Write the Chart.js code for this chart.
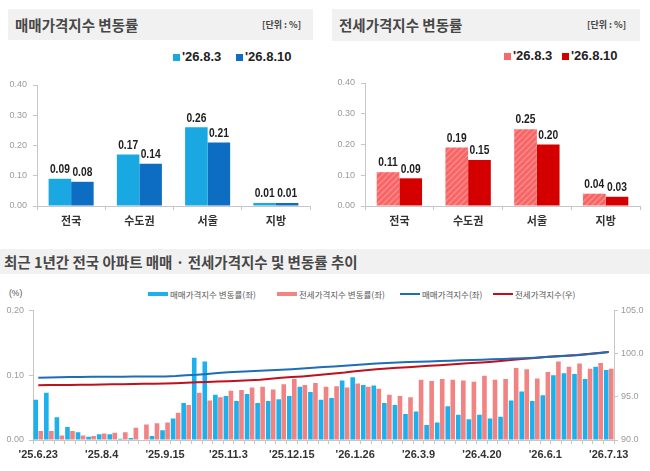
<!DOCTYPE html>
<html><head><meta charset="utf-8">
<script src="https://cdn.jsdelivr.net/npm/chart.js@4.4.1/dist/chart.umd.min.js"></script>
<style>
body{margin:0;background:#fff;width:650px;height:471px;position:relative;overflow:hidden;font-family:'Noto Sans CJK KR','Noto Sans',sans-serif;}
.abs{position:absolute;white-space:nowrap;}
.band{position:absolute;background:#f1f1f1;}
.title{font-weight:bold;color:#474747;}
.unit{font-weight:bold;color:#444;font-size:9px;}
.lg{font-family:'Liberation Sans',Arial,sans-serif;font-weight:bold;font-size:13px;color:#222;line-height:14px;}
.sq{position:absolute;width:7px;height:7px;}
.blg{font-size:8.5px;color:#555;line-height:10px;}
.bsym{position:absolute;width:20px;}
canvas{position:absolute;}
</style>
</head><body>
<div class="band" style="left:8px;top:9px;width:305px;height:31px;"></div>
<div class="abs title" style="left:15px;top:9px;line-height:31px;font-size:14.5px;">매매가격지수 변동률</div>
<div class="abs unit" style="left:262px;top:9px;line-height:31px;">[단위 : %]</div>
<div class="sq" style="left:173px;top:54px;background:#19a8e2;"></div>
<div class="abs lg" style="left:182px;top:50px;">'26.8.3</div>
<div class="sq" style="left:236px;top:54px;background:#0d6dc2;"></div>
<div class="abs lg" style="left:245px;top:50px;">'26.8.10</div>

<div class="band" style="left:332px;top:9px;width:308px;height:32px;"></div>
<div class="abs title" style="left:339px;top:9px;line-height:32px;font-size:14.5px;">전세가격지수 변동률</div>
<div class="abs unit" style="left:587px;top:9px;line-height:32px;">[단위 : %]</div>
<div class="sq" style="left:504px;top:53px;background:#f86a6a;"></div>
<div class="abs lg" style="left:513px;top:49px;">'26.8.3</div>
<div class="sq" style="left:562px;top:53px;background:#d40000;"></div>
<div class="abs lg" style="left:571px;top:49px;">'26.8.10</div>

<div class="band" style="left:0px;top:249px;width:650px;height:25px;"></div>
<div class="abs title" style="left:4px;top:249px;line-height:25px;font-size:14.5px;">최근 1년간 전국 아파트 매매 · 전세가격지수 및 변동률 추이</div>
<div class="abs blg" style="left:9px;top:288px;font-family:'Liberation Sans',sans-serif;">(%)</div>
<div class="bsym" style="left:148px;top:292px;height:4px;background:#1cb0ec;"></div>
<div class="abs blg" style="left:170px;top:289px;">매매가격지수 변동률(좌)</div>
<div class="bsym" style="left:277px;top:292px;height:4px;background:#f28383;"></div>
<div class="abs blg" style="left:299px;top:289px;">전세가격지수 변동률(좌)</div>
<div class="bsym" style="left:400px;top:293px;height:2px;background:#1f6db8;"></div>
<div class="abs blg" style="left:422px;top:289px;">매매가격지수(좌)</div>
<div class="bsym" style="left:493px;top:293px;height:2px;background:#c0101c;"></div>
<div class="abs blg" style="left:515px;top:289px;">전세가격지수(우)</div>

<canvas id="c1" width="325" height="165" style="left:0px;top:70px;"></canvas>
<canvas id="c2" width="325" height="165" style="left:325px;top:70px;"></canvas>
<canvas id="c3" width="650" height="171" style="left:0px;top:300px;"></canvas>

<script>
// ---- top panels data ----
const regions = ['전국','수도권','서울','지방'];
const topSeriesNames = ["'26.8.3","'26.8.10"];
const saleRatePrev = [0.09, 0.17, 0.26, 0.01];
const saleRateCur  = [0.08, 0.14, 0.21, 0.01];
const jeonseRatePrev = [0.11, 0.19, 0.25, 0.04];
const jeonseRateCur  = [0.09, 0.15, 0.20, 0.03];
const topTicks = [0.00, 0.10, 0.20, 0.30, 0.40];

// ---- bottom panel data ----
const weeks = ["'25.6.23","'25.6.30","'25.7.7","'25.7.14","'25.7.21","'25.7.28","'25.8.4","'25.8.11","'25.8.18","'25.8.25","'25.9.1","'25.9.8","'25.9.15","'25.9.22","'25.9.29","'25.10.13","'25.10.20","'25.10.27","'25.11.3","'25.11.10","'25.11.17","'25.11.24","'25.12.1","'25.12.8","'25.12.15","'25.12.22","'25.12.29","'26.1.5","'26.1.12","'26.1.19","'26.1.26","'26.2.2","'26.2.9","'26.2.16","'26.2.23","'26.3.2","'26.3.9","'26.3.16","'26.3.23","'26.3.30","'26.4.6","'26.4.13","'26.4.20","'26.4.27","'26.5.4","'26.5.11","'26.5.18","'26.5.25","'26.6.1","'26.6.8","'26.6.15","'26.6.22","'26.6.29","'26.7.6","'26.7.13"];
const shownWeekLabels = ["'25.6.23","'25.8.4","'25.9.15","'25.11.3","'25.12.15","'26.1.26","'26.3.9","'26.4.20","'26.6.1","'26.7.13"];
const saleRate = [0.062,0.073,0.035,0.020,0.012,0.005,0.009,0.009,0.002,0.003,0.000,0.006,0.015,0.033,0.057,0.127,0.121,0.070,0.068,0.060,0.071,0.057,0.060,0.063,0.068,0.082,0.074,0.062,0.065,0.092,0.097,0.085,0.084,0.057,0.054,0.040,0.044,0.023,0.027,0.052,0.039,0.032,0.039,0.033,0.036,0.061,0.075,0.060,0.069,0.100,0.103,0.102,0.094,0.113,0.108];
const jeonseRate = [0.014,0.014,0.007,0.014,0.007,0.006,0.010,0.011,0.012,0.019,0.024,0.026,0.027,0.042,0.054,0.073,0.061,0.066,0.076,0.077,0.081,0.082,0.078,0.086,0.094,0.085,0.088,0.082,0.083,0.081,0.087,0.082,0.079,0.070,0.068,0.066,0.093,0.091,0.094,0.093,0.092,0.090,0.099,0.093,0.094,0.111,0.109,0.095,0.105,0.121,0.113,0.118,0.110,0.119,0.110];
const saleIndex = [97.20,97.22,97.25,97.28,97.30,97.32,97.33,97.33,97.33,97.34,97.35,97.35,97.36,97.40,97.48,97.55,97.65,97.75,97.84,97.90,97.96,98.02,98.07,98.13,98.20,98.28,98.36,98.44,98.50,98.58,98.68,98.77,98.85,98.92,98.97,99.02,99.06,99.10,99.14,99.18,99.22,99.26,99.30,99.34,99.38,99.42,99.47,99.53,99.60,99.67,99.74,99.81,99.92,100.05,100.19];
const jeonseIndex = [96.35,96.36,96.37,96.38,96.39,96.40,96.42,96.44,96.46,96.48,96.50,96.52,96.54,96.58,96.63,96.68,96.72,96.76,96.80,96.86,96.92,96.98,97.08,97.20,97.28,97.36,97.46,97.58,97.70,97.80,97.95,98.08,98.18,98.28,98.36,98.43,98.50,98.58,98.66,98.74,98.82,98.90,98.98,99.07,99.16,99.30,99.40,99.50,99.60,99.68,99.76,99.84,99.96,100.08,100.19];
const leftTicks = [0.00, 0.10, 0.20];
const rightTicks = [90.0, 95.0, 100.0, 105.0];

const NUM = "'Liberation Sans', Arial, sans-serif";
const KR = "'Noto Sans CJK KR', 'Noto Sans', sans-serif";
const AXIS = '#c6c6c6';

function hatch(base, stripe){
  const c = document.createElement('canvas'); c.width = 6; c.height = 6;
  const g = c.getContext('2d');
  g.fillStyle = base; g.fillRect(0,0,6,6);
  g.strokeStyle = stripe; g.lineWidth = 1.3;
  g.beginPath();
  g.moveTo(0,6); g.lineTo(6,0);
  g.moveTo(-3,3); g.lineTo(3,-3);
  g.moveTo(3,9); g.lineTo(9,3);
  g.stroke();
  return g.createPattern(c,'repeat');
}

const valueLabels = {
  id:'valueLabels',
  afterDatasetsDraw(chart){
    const ctx = chart.ctx;
    chart.data.datasets.forEach((ds,i)=>{
      chart.getDatasetMeta(i).data.forEach((bar,j)=>{
        ctx.save();
        ctx.font = 'bold 12.5px ' + NUM;
        ctx.fillStyle = '#1e1e1e';
        ctx.textAlign = 'center';
        ctx.textBaseline = 'bottom';
        ctx.translate(bar.x, bar.y - 3);
        ctx.scale(0.82, 1);
        ctx.fillText(ds.data[j].toFixed(2), 0, 0);
        ctx.restore();
      });
    });
  }
};

function topOptions(yWidth, padTop, padRight){
  return {
    responsive:false, animation:false,
    layout:{padding:{top:padTop, right:padRight, left:0, bottom:0}},
    plugins:{legend:{display:false}, tooltip:{enabled:false}},
    scales:{
      x:{
        grid:{display:true, drawOnChartArea:false, offset:true, color:AXIS, tickLength:4},
        border:{color:AXIS},
        ticks:{font:{family:KR, weight:'bold', size:11}, color:'#333', padding:4},
        afterFit(s){ s.height = 29; }
      },
      y:{
        min:topTicks[0], max:topTicks[topTicks.length-1],
        afterBuildTicks(s){ s.ticks = topTicks.map(v=>({value:v})); },
        ticks:{callback:v=>Number(v).toFixed(2), font:{family:NUM, size:9}, color:'#9a9a9a', padding:6},
        grid:{drawOnChartArea:false, tickLength:4, color:AXIS},
        border:{color:AXIS},
        afterFit(s){ s.width = yWidth; }
      }
    }
  };
}

new Chart(document.getElementById('c1'), {
  type:'bar',
  data:{labels:regions, datasets:[
    {label:topSeriesNames[0], data:saleRatePrev, backgroundColor:'#19a8e2', categoryPercentage:0.66, barPercentage:1.0},
    {label:topSeriesNames[1], data:saleRateCur, backgroundColor:'#0d6dc2', categoryPercentage:0.66, barPercentage:1.0}
  ]},
  options:topOptions(37, 15, 15),
  plugins:[valueLabels]
});

new Chart(document.getElementById('c2'), {
  type:'bar',
  data:{labels:regions, datasets:[
    {label:topSeriesNames[0], data:jeonseRatePrev, backgroundColor:hatch('#f76565','#ff8c8c'), categoryPercentage:0.66, barPercentage:1.0},
    {label:topSeriesNames[1], data:jeonseRateCur, backgroundColor:'#d40000', categoryPercentage:0.66, barPercentage:1.0}
  ]},
  options:topOptions(40, 13, 10),
  plugins:[valueLabels]
});

new Chart(document.getElementById('c3'), {
  type:'bar',
  data:{labels:weeks, datasets:[
    {type:'line', label:'매매가격지수(좌)', data:saleIndex, yAxisID:'y1', borderColor:'#1f6db8', backgroundColor:'#1f6db8', borderWidth:2, pointRadius:0, tension:0, order:0},
    {type:'line', label:'전세가격지수(우)', data:jeonseIndex, yAxisID:'y1', borderColor:'#c0101c', backgroundColor:'#c0101c', borderWidth:2, pointRadius:0, tension:0, order:0},
    {label:'매매가격지수 변동률(좌)', data:saleRate, yAxisID:'y', backgroundColor:'#1cb0ec', categoryPercentage:0.95, barPercentage:0.92, order:1},
    {label:'전세가격지수 변동률(좌)', data:jeonseRate, yAxisID:'y', backgroundColor:'#f28383', categoryPercentage:0.95, barPercentage:0.92, order:1}
  ]},
  options:{
    responsive:false, animation:false,
    layout:{padding:{top:8, right:0, left:0, bottom:0}},
    plugins:{legend:{display:false}, tooltip:{enabled:false}},
    scales:{
      x:{
        grid:{display:true, drawOnChartArea:false, offset:true, color:AXIS, tickLength:4},
        border:{color:AXIS},
        ticks:{autoSkip:false, maxRotation:0, minRotation:0,
          callback:(v,i)=> shownWeekLabels.includes(weeks[i]) ? weeks[i] : '',
          font:{family:NUM, weight:'bold', size:11}, color:'#333', padding:4},
        afterFit(s){ s.height = 31; }
      },
      y:{
        position:'left', min:leftTicks[0], max:leftTicks[leftTicks.length-1],
        afterBuildTicks(s){ s.ticks = leftTicks.map(v=>({value:v})); },
        ticks:{callback:v=>Number(v).toFixed(2), font:{family:NUM, size:9}, color:'#9a9a9a', padding:5},
        grid:{drawOnChartArea:false, tickLength:4, color:AXIS},
        border:{color:AXIS},
        afterFit(s){ s.width = 33; }
      },
      y1:{
        position:'right', min:rightTicks[0], max:rightTicks[rightTicks.length-1],
        afterBuildTicks(s){ s.ticks = rightTicks.map(v=>({value:v})); },
        ticks:{callback:v=>Number(v).toFixed(1), font:{family:NUM, size:9}, color:'#9a9a9a', padding:3},
        grid:{drawOnChartArea:false, tickLength:4, color:AXIS},
        border:{color:AXIS},
        afterFit(s){ s.width = 36; }
      }
    }
  }
});
</script>
</body></html>
